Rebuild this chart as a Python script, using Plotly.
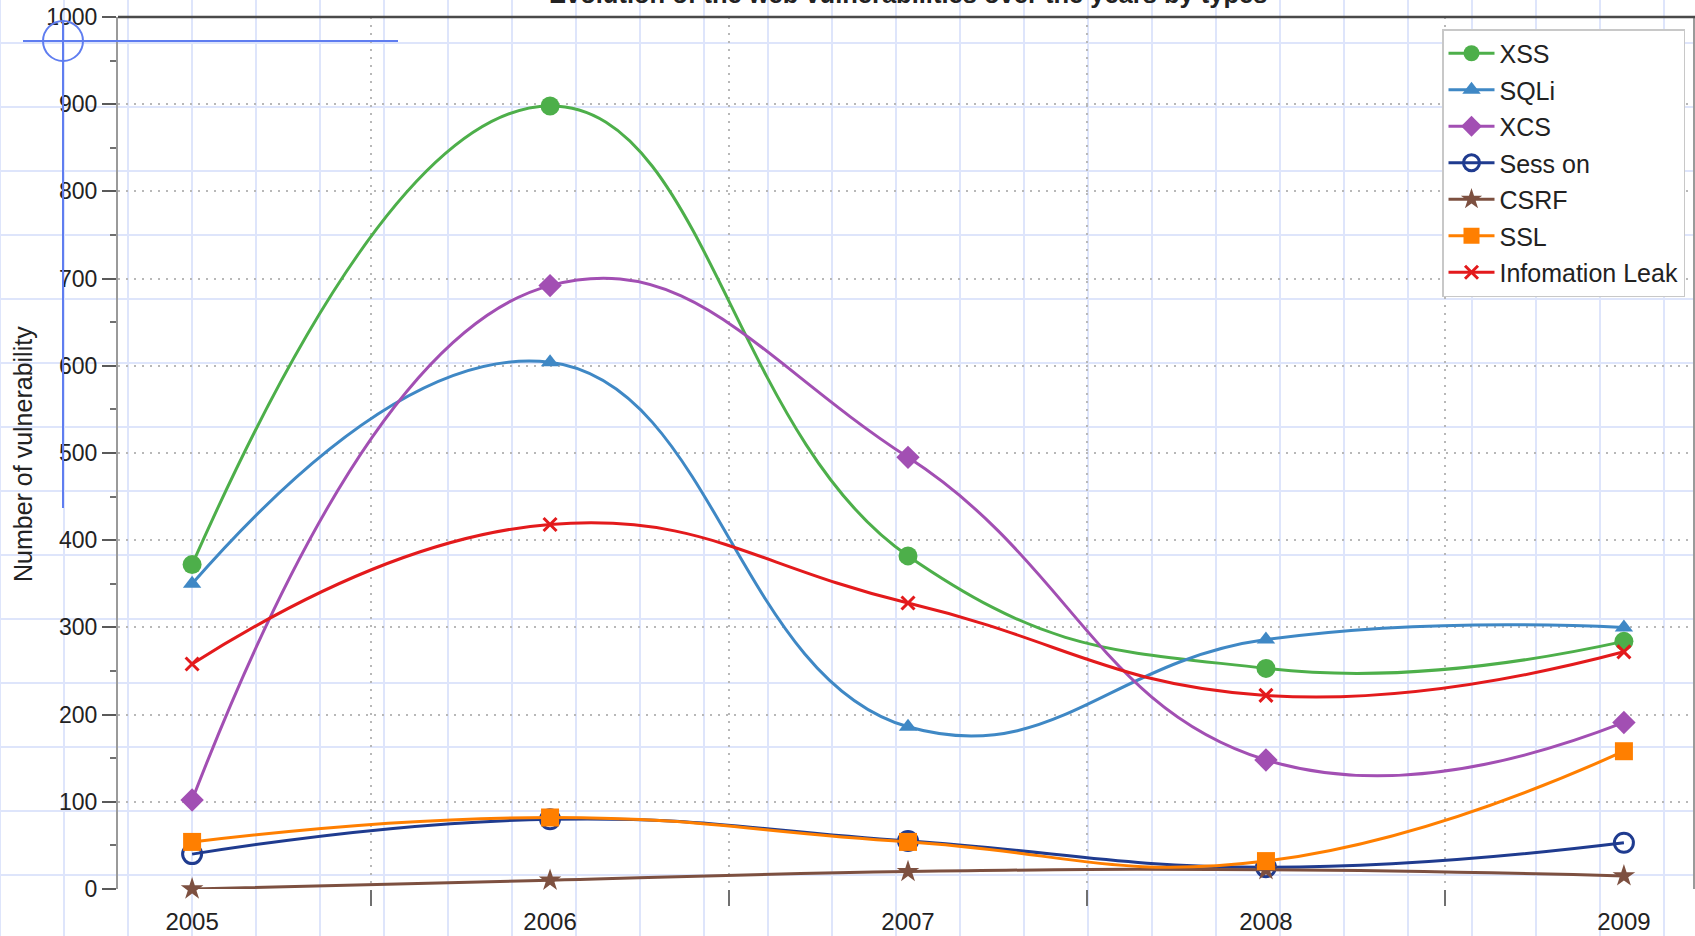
import plotly.graph_objects as go

years = [2005, 2006, 2007, 2008, 2009]
year_labels = ["2005", "2006", "2007", "2008", "2009"]
xss = [372, 898, 382, 253, 284]
sqli = [350, 604, 186, 286, 300]
xcs = [102, 692, 495, 148, 191]
session = [40, 80, 55, 25, 53]
csrf = [0, 10, 20, 22, 15]
ssl = [54, 82, 54, 32, 158]
info_leak = [258, 418, 328, 222, 272]

series_names = ["XSS", "SQLi", "XCS", "Sess on", "CSRF", "SSL", "Infomation Leak"]
series_values = [xss, sqli, xcs, session, csrf, ssl, info_leak]
y_ticks = list(range(0, 1001, 100))
half_years = [2005.5, 2006.5, 2007.5, 2008.5]

styles = [
    dict(color="#4daf4a", symbol="circle", size=19, fill=True),
    dict(color="#3f88c5", symbol="triangle-up", size=16, fill=True),
    dict(color="#a24fb3", symbol="diamond", size=18, fill=True),
    dict(color="#1f3b8f", symbol="circle-open", size=19, fill=False),
    dict(color="#7d5040", symbol="star", size=17, fill=True),
    dict(color="#ff7f00", symbol="square", size=18, fill=True),
    dict(color="#e31a1c", symbol="x-thin-open", size=13, fill=False),
]

W_FIG, H_FIG = 1695, 936
L, R, T, B = 118, 2, 17, 47
PW = W_FIG - L - R
PH = H_FIG - T - B


def px_x(p):
    return (p - L) / PW


def px_y(p):
    return (H_FIG - B - p) / PH


fig = go.Figure()
for name, vals, st in zip(series_names, series_values, styles):
    mk = dict(symbol=st["symbol"], size=st["size"], color=st["color"],
              line=dict(width=3 if not st["fill"] else 0, color=st["color"]))
    fig.add_trace(go.Scatter(
        x=years, y=vals, name=name, mode="lines+markers",
        line=dict(color=st["color"], width=3, shape="spline", smoothing=1.3),
        marker=mk, cliponaxis=False, legendgroup=name,
    ))

shapes = []
grid_col = "rgb(222,229,251)"
for k in range(0, 27):
    xp = 64 * k
    shapes.append(dict(type="line", xref="paper", yref="paper", layer="below",
                       x0=px_x(xp), x1=px_x(xp), y0=px_y(-5), y1=px_y(H_FIG + 5),
                       line=dict(color=grid_col, width=2)))
for k in range(0, 15):
    yp = 43 + 64 * k
    shapes.append(dict(type="line", xref="paper", yref="paper", layer="below",
                       x0=px_x(-5), x1=px_x(W_FIG + 5), y0=px_y(yp), y1=px_y(yp),
                       line=dict(color=grid_col, width=2)))
# top frame line
shapes.append(dict(type="line", xref="paper", yref="paper", layer="above",
                   x0=0, x1=px_x(W_FIG + 2), y0=1, y1=1,
                   line=dict(color="#4a4a4a", width=2.5)))
# blue crosshair annotation
blue = "rgb(95,125,240)"
shapes.append(dict(type="line", xref="paper", yref="paper", layer="above",
                   x0=px_x(23), x1=px_x(398), y0=px_y(41), y1=px_y(41),
                   line=dict(color=blue, width=2)))
shapes.append(dict(type="line", xref="paper", yref="paper", layer="above",
                   x0=px_x(63), x1=px_x(63), y0=px_y(20), y1=px_y(508),
                   line=dict(color=blue, width=2)))
shapes.append(dict(type="circle", xref="paper", yref="paper", layer="above",
                   x0=px_x(43), x1=px_x(83), y0=px_y(21), y1=px_y(61),
                   line=dict(color=blue, width=2)))

fig.update_layout(
    width=W_FIG, height=H_FIG,
    margin=dict(l=L, r=R, t=T, b=B, autoexpand=False),
    paper_bgcolor="white", plot_bgcolor="rgba(0,0,0,0)",
    font=dict(family="Liberation Sans, Arial, sans-serif", size=22, color="#222"),
    shapes=shapes,
    showlegend=True,
    legend=dict(x=px_x(1442), y=px_y(29), xanchor="left", yanchor="top",
                bgcolor="white", bordercolor="#c8c8c8", borderwidth=1.5,
                font=dict(size=25, color="#222"), tracegroupgap=1,
                itemwidth=46),
    annotations=[
        dict(text="<b>Evolution of the web vulnerabilities over the years by types</b>",
             xref="paper", yref="paper", x=px_x(908), y=px_y(10),
             xanchor="center", yanchor="bottom", showarrow=False,
             font=dict(size=25.5, color="#222")),
        dict(text="Number of vulnerability", xref="paper", yref="paper",
             x=px_x(23), y=px_y(454), xanchor="center", yanchor="middle",
             textangle=-90, showarrow=False, font=dict(size=25, color="#222")),
    ],
)

fig.update_xaxes(
    range=[2004.793, 2009.193], tickmode="array", tickvals=years, ticktext=year_labels,
    ticks="outside", ticklen=11, tickcolor="rgba(0,0,0,0)", showgrid=False,
    zeroline=False, showline=False,
    tickfont=dict(size=24, color="#222"),
    minor=dict(tickmode="array", tickvals=half_years, ticks="outside", ticklen=16,
               tickwidth=2, tickcolor="#707070", showgrid=True,
               gridcolor="#b8b8b8", griddash="2px,6px", gridwidth=1.5),
)
fig.update_yaxes(
    range=[0, 1000], tickmode="array", tickvals=y_ticks,
    ticks="outside", ticklen=14, tickwidth=2, tickcolor="#5a5a5a",
    showgrid=True, gridcolor="#b8b8b8", griddash="2px,6px", gridwidth=1.5,
    zeroline=False, showline=True, mirror=True, linecolor="#9a9a9a", linewidth=2,
    tickfont=dict(size=23, color="#222"),
    minor=dict(dtick=50, ticks="outside", ticklen=6, tickwidth=2, tickcolor="#707070",
               showgrid=False),
)

fig.write_html("out.html", config={"displayModeBar": False},
               post_script="document.body.style.margin='0';document.body.style.overflow='hidden';")
